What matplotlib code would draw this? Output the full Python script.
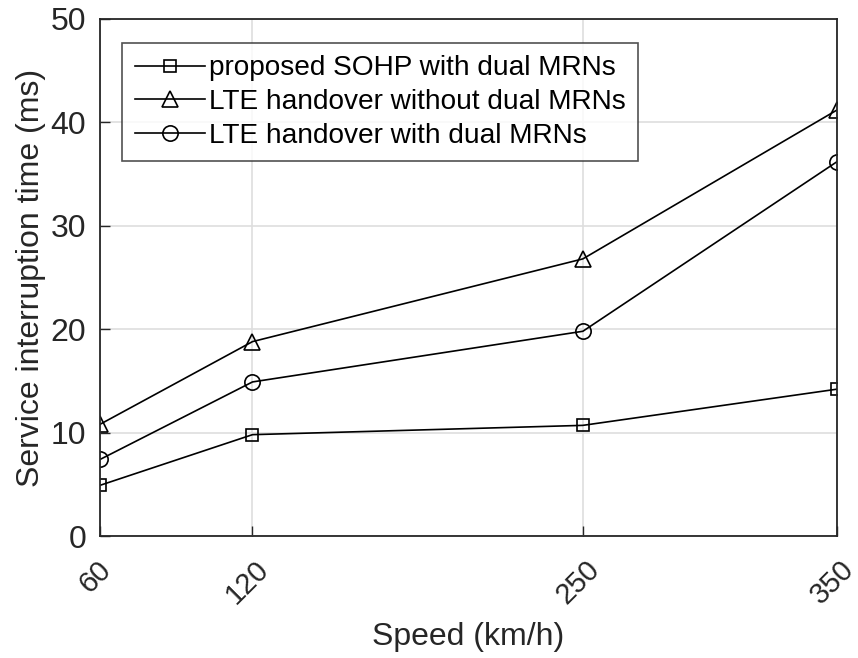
import numpy as np
import matplotlib.pyplot as plt
import matplotlib.transforms as mtransforms

plt.rcParams['font.family'] = ['Liberation Sans', 'DejaVu Sans']

# Data
speeds = [60, 120, 250, 350]
sohp_dual = [4.9, 9.8, 10.7, 14.2]
lte_no_dual = [10.8, 18.8, 26.8, 41.2]
lte_dual = [7.4, 14.9, 19.8, 36.2]

labels = ['proposed SOHP with dual MRNs',
          'LTE handover without dual MRNs',
          'LTE handover with dual MRNs']

fig = plt.figure(figsize=(8.58, 6.58), dpi=100)
ax = fig.add_axes([100/858, 1 - 536/658, 737/858, 517/658])

ax.plot(speeds, sohp_dual, '-s', color='black', lw=1.2, ms=8.5, mfc='none', mew=1.2, label=labels[0])
ax.plot(speeds, lte_no_dual, '-^', color='black', lw=1.2, ms=11, mfc='none', mew=1.2, label=labels[1])
ax.plot(speeds, lte_dual, '-o', color='black', lw=1.2, ms=11, mfc='none', mew=1.2, label=labels[2])

ax.set_xlim(60, 350)
ax.set_ylim(0, 50)
ax.set_xticks(speeds)
ax.set_yticks([0, 10, 20, 30, 40, 50])
ax.tick_params(direction='in', labelsize=23, length=7, width=1, colors='#262626')
ax.tick_params(axis='y', pad=10)
ax.tick_params(axis='x', pad=14, labelsize=21)
# shift rotated tick labels slightly left, as in the reference
shift = mtransforms.ScaledTranslation(-5/100, 0, fig.dpi_scale_trans)
for lbl in ax.get_xticklabels():
    lbl.set_rotation(45)
    lbl.set_ha('center')
    lbl.set_va('top')
    lbl.set_transform(lbl.get_transform() + shift)
ax.grid(True, color='#dedede', lw=1.2)
ax.set_axisbelow(True)
for s in ax.spines.values():
    s.set_color('#262626')
    s.set_linewidth(1.3)

ax.set_xlabel('Speed (km/h)', fontsize=23, color='#262626', labelpad=9)
ax.set_ylabel('Service interruption time (ms)', fontsize=23, color='#262626', labelpad=3)

leg = ax.legend(loc='upper left', bbox_to_anchor=(0.03, 0.954), fontsize=20.2,
                frameon=True, fancybox=False, edgecolor='#262626',
                handlelength=2.5, borderpad=0.45, labelspacing=0.27, handletextpad=0.15,
                borderaxespad=0)
leg.get_frame().set_linewidth(1.2)

fig.savefig('out.png', dpi=100)
